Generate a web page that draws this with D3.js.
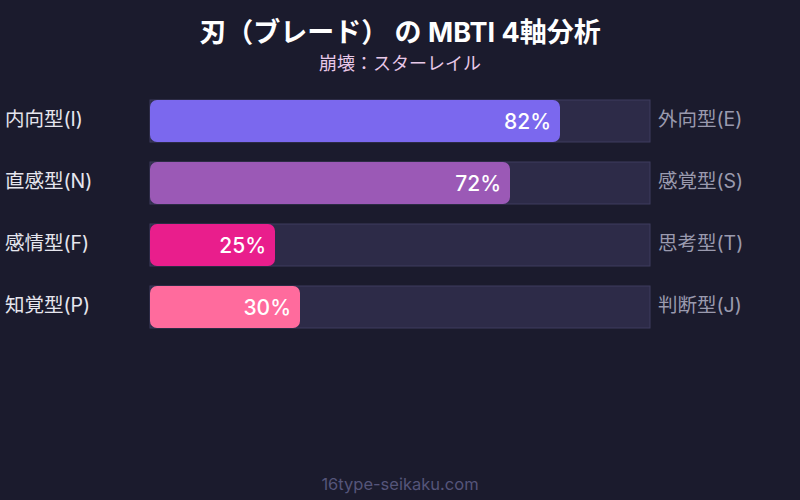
<!DOCTYPE html>
<html><head><meta charset="utf-8">
<script src="https://cdn.jsdelivr.net/npm/d3@7"></script>
<style>html,body{margin:0;padding:0;background:#1b1b2d;}svg{display:block;}</style>
</head><body>
<svg id="c" width="800" height="500"></svg>
<script>
const leftLabels = ["内向型(I)", "直感型(N)", "感情型(F)", "知覚型(P)"];
const rightLabels = ["外向型(E)", "感覚型(S)", "思考型(T)", "判断型(J)"];
const values = [82, 72, 25, 30];
const colors = ["#7b68ee", "#9b59b6", "#e91e8c", "#ff6b9d"];
const title = "刃（ブレード） の MBTI 4軸分析";
const subtitle = "崩壊：スターレイル";
const footer = "16type-seikaku.com";

const font = "Inter, 'Noto Sans CJK JP', sans-serif";
const svg = d3.select("#c");
svg.append("rect").attr("width",800).attr("height",500).attr("fill","#1b1b2d");

const x = d3.scaleLinear().domain([0,100]).range([150,650]);
const yb = i => 100 + i*62;
const bh = 42;

svg.append("text").attr("x",400).attr("y",42).attr("text-anchor","middle")
  .attr("fill","#ffffff").attr("font-family",font).attr("font-weight","bold").attr("font-size",27).text(title);
svg.append("text").attr("x",400).attr("y",70).attr("text-anchor","middle")
  .attr("fill","#e8c8e8").attr("font-family",font).attr("font-size",18).text(subtitle);

const g = svg.append("g");
const rows = g.selectAll("g.row").data(values).join("g").attr("class","row");
rows.append("rect").attr("x",x(0)).attr("y",(d,i)=>yb(i)).attr("width",x(100)-x(0)).attr("height",bh)
  .attr("fill","#2d2b48").attr("stroke","#3e3d5e").attr("stroke-width",1);
rows.append("rect").attr("x",x(0)).attr("y",(d,i)=>yb(i)).attr("width",d=>x(d)-x(0)).attr("height",bh)
  .attr("rx",7).attr("fill",(d,i)=>colors[i]);
rows.append("text").attr("x",d=>x(d)-9).attr("y",(d,i)=>yb(i)+bh/2).attr("dy","0.36em")
  .attr("text-anchor","end").attr("fill","#ffffff").attr("font-family",font).attr("font-weight",500)
  .attr("font-size",21).text(d=>d+"%");
rows.append("text").attr("x",5).attr("y",(d,i)=>yb(i)+bh/2).attr("dy","0.28em")
  .attr("fill","#e6e6ee").attr("font-family",font).attr("font-size",19.5).text((d,i)=>leftLabels[i]);
rows.append("text").attr("x",658).attr("y",(d,i)=>yb(i)+bh/2).attr("dy","0.28em")
  .attr("fill","#9a9aae").attr("font-family",font).attr("font-size",19.5).text((d,i)=>rightLabels[i]);

svg.append("text").attr("x",400).attr("y",490).attr("text-anchor","middle")
  .attr("fill","#55557a").attr("font-family",font).attr("font-size",16.5).text(footer);
</script>
</body></html>
